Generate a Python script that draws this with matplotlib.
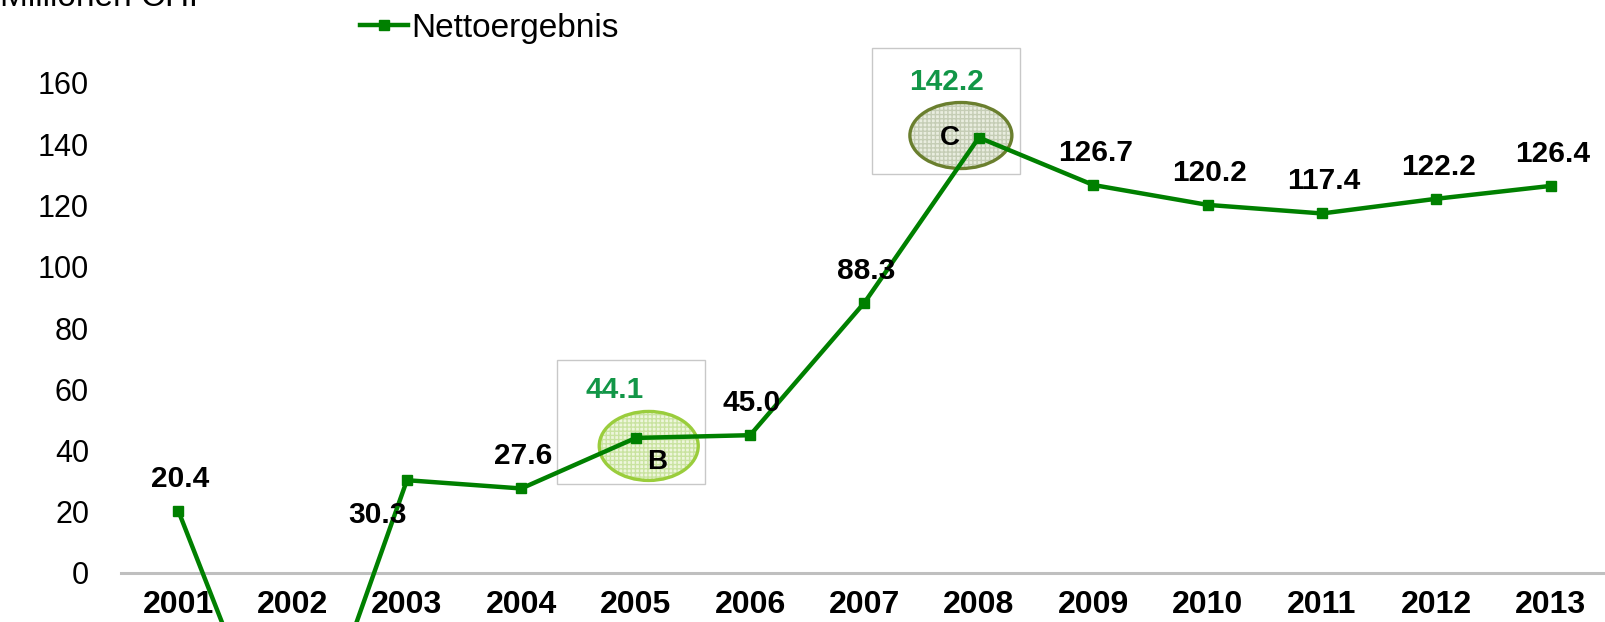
import matplotlib
matplotlib.use("Agg")
import matplotlib.pyplot as plt
from matplotlib.patches import Ellipse, Rectangle
from matplotlib.transforms import ScaledTranslation

plt.rcParams["font.family"] = ["Liberation Sans", "DejaVu Sans"]

years = ["2001", "2002", "2003", "2004", "2005", "2006", "2007",
         "2008", "2009", "2010", "2011", "2012", "2013"]
netto = [20.4, -75.0, 30.3, 27.6, 44.1, 45.0, 88.3,
         142.2, 126.7, 120.2, 117.4, 122.2, 126.4]
y_ticks = [-20, 0, 20, 40, 60, 80, 100, 120, 140, 160]
series_name = "Nettoergebnis"
unit_label = "Millionen CHF"
highlight = {"2005": "B", "2008": "C"}

GREEN = "#008000"
LABEL_GREEN = "#129647"

# label offsets in pixels (dx, dy), y upward
label_off = {"2003": (-29, -35), "2005": (-21, 48), "2008": (-32, 56)}
default_off = (2, 32)

W, H = 1606, 622
fig = plt.figure(figsize=(W / 100, H / 100), dpi=100)
x_left, x_right = 121, 1608
ax = fig.add_axes([x_left / W, 0, (x_right - x_left) / W, 1])

x = list(range(1, len(years) + 1))
line, = ax.plot(x, netto, color=GREEN, lw=3.2, marker="s", ms=7.5,
                zorder=4, label=series_name, clip_on=True)

for s in ["top", "right", "left"]:
    ax.spines[s].set_visible(False)
ax.spines["bottom"].set_position(("data", 0))
ax.spines["bottom"].set_color("#BFBFBF")
ax.spines["bottom"].set_linewidth(2.2)
ax.spines["bottom"].set_zorder(2)

ax.set_xticks(x)
ax.set_xticklabels(years, fontsize=23, fontweight="bold")
ax.set_yticks(y_ticks)
ax.set_yticklabels([str(v) for v in y_ticks], fontsize=22)
ax.tick_params(axis="x", length=0, pad=12)
ax.tick_params(axis="y", length=0, pad=23)
ax.patch.set_alpha(0)

# limits after ticks (set_yticks would otherwise widen them)
px = 490 / 160.0  # pixels per unit
y0 = 573
ax.set_ylim((y0 - H) / px, y0 / px)
ax.set_xlim(0.5, len(years) + 0.5)

to_in = 1 / 100.0
for xi, yr, v in zip(x, years, netto):
    if v < ax.get_ylim()[0]:
        continue
    dx, dy = label_off.get(yr, default_off)
    col = LABEL_GREEN if yr in highlight else "black"
    ax.annotate(f"{v:.1f}", (xi, v), xytext=(dx * 0.72, dy * 0.72),
                textcoords="offset points", ha="center", va="center",
                fontsize=21.5, fontweight="bold", color=col, zorder=6)

# highlight boxes and ellipses (offsets in pixels from the point)
styles = {
    "B": dict(box=(-79, -46, 148, 124), ell=(13, -8, 99, 69), ell_face="#eef6dc",
              hatch_col="#c9e3a0", edge="#9ACD3C", txt=(21, -24)),
    "C": dict(box=(-107, -36, 148, 126), ell=(-18, 2, 102, 66), ell_face="#e9eddf",
              hatch_col="#c5cdb5", edge="#6A7F2E", txt=(-29, 0)),
}
for yr, letter in highlight.items():
    i = years.index(yr)
    st = styles[letter]
    tr = fig.dpi_scale_trans + ScaledTranslation(x[i], netto[i], ax.transData)
    bx, by, bw, bh = st["box"]
    ax.add_patch(Rectangle((bx * to_in, by * to_in), bw * to_in, bh * to_in,
                           transform=tr, fill=False, ec="#C8C8C8", lw=1.0,
                           zorder=1, clip_on=False))
    ex, ey, ew, eh = st["ell"]
    ax.add_patch(Ellipse((ex * to_in, ey * to_in), ew * to_in, eh * to_in,
                         transform=tr, fc=st["ell_face"], ec=st["hatch_col"],
                         lw=0, hatch="++++", zorder=2, clip_on=False))
    ax.add_patch(Ellipse((ex * to_in, ey * to_in), ew * to_in, eh * to_in,
                         transform=tr, fill=False, ec=st["edge"], lw=2.4,
                         zorder=3, clip_on=False))
    tx, ty = st["txt"]
    ax.annotate(letter, (x[i], netto[i]), xytext=(tx * 0.72, ty * 0.72),
                textcoords="offset points", ha="center", va="center",
                fontsize=20, fontweight="bold", color="black", zorder=6)

# re-assert limits after adding patches
ax.set_ylim((y0 - H) / px, y0 / px)
ax.set_xlim(0.5, len(years) + 0.5)

fig.legend(handles=[line], loc="center left",
           bbox_to_anchor=(360 / W, 1 - 28 / H), frameon=False,
           fontsize=24, handlelength=1.45, handletextpad=0.1,
           borderpad=0, borderaxespad=0)

fig.text(0, 1 - 6 / H, unit_label, fontsize=24, ha="left", va="baseline")

fig.savefig("out.png", dpi=100)
